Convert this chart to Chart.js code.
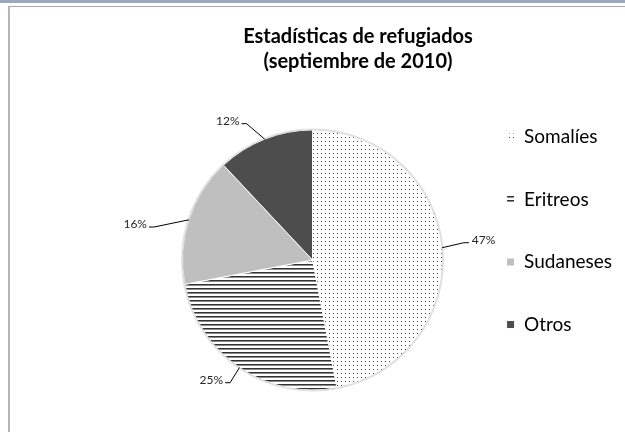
<!DOCTYPE html>
<html>
<head>
<meta charset="utf-8">
<script src="https://cdn.jsdelivr.net/npm/chart.js@4.4.1/dist/chart.umd.min.js"></script>
<style>
html, body { margin: 0; padding: 0; background: #fff; overflow: hidden; }
#band { position: absolute; left: 0; top: 0; width: 625px; height: 3px; background: #9da8ba; }
#frame { position: absolute; left: 8px; top: 6px; width: 640px; height: 440px; border-left: 2px solid #b5b5b5; border-top: 1px solid #a9a9a9; }
/* the Excel chart carries on past the right and bottom edges of the shot */
#wrap { position: absolute; left: 0; top: 0; width: 700px; height: 436px; }
</style>
</head>
<body>
<div id="band"></div>
<div id="frame"></div>
<div id="wrap"><canvas id="myChart"></canvas></div>
<script>
var categories = ["Somalíes", "Eritreos", "Sudaneses", "Otros"];
var shares = [47, 25, 16, 12];
var titleLines = ["Estadísticas de refugiados", "(septiembre de 2010)"];

// fill patterns like the Excel ones
function dotPattern() {
    var c = document.createElement('canvas');
    c.width = 4; c.height = 4;
    var g = c.getContext('2d');
    g.fillStyle = '#fff'; g.fillRect(0, 0, 4, 4);
    g.fillStyle = '#444'; g.fillRect(1, 1, 1, 1);
    return g.createPattern(c, 'repeat');
}
function linePattern() {
    var c = document.createElement('canvas');
    c.width = 4; c.height = 4;
    var g = c.getContext('2d');
    g.fillStyle = '#fff'; g.fillRect(0, 0, 4, 4);
    g.fillStyle = '#333'; g.fillRect(0, 0, 4, 1);
    g.fillStyle = '#8a8a8a'; g.fillRect(0, 1, 4, 1);
    return g.createPattern(c, 'repeat');
}
var fills = [dotPattern(), linePattern(), '#bfbfbf', '#4d4d4d'];

// small nudges so the leader lines land where Excel put them
var labelShift = [[0, -3], [3, -3], [-14, 14], [-10, 5]];

var pieLabels = {
    id: 'pieLabels',
    afterDatasetsDraw: function(chart) {
        var ctx = chart.ctx;
        var arcs = chart.getDatasetMeta(0).data;
        var total = shares.reduce(function(a, b) { return a + b; }, 0);
        ctx.save();
        // soft outer edge
        var a0 = arcs[0];
        ctx.beginPath();
        ctx.arc(a0.x, a0.y, a0.outerRadius + 0.5, 0, Math.PI * 2);
        ctx.strokeStyle = 'rgba(0,0,0,0.12)';
        ctx.lineWidth = 2;
        ctx.stroke();
        ctx.font = '12px Lato';
        ctx.fillStyle = '#262626';
        ctx.strokeStyle = '#000';
        ctx.lineWidth = 1;
        ctx.textBaseline = 'middle';
        arcs.forEach(function(arc, i) {
            var mid = (arc.startAngle + arc.endAngle) / 2;
            var r = arc.outerRadius;
            var cx = Math.cos(mid), sy = Math.sin(mid);
            var x1 = arc.x + cx * r, y1 = arc.y + sy * r;
            var x2 = arc.x + cx * (r + 22) + labelShift[i][0];
            var y2 = arc.y + sy * (r + 22) + labelShift[i][1];
            var right = cx >= 0;
            var x3 = x2 + (right ? 5 : -5);
            ctx.beginPath();
            ctx.moveTo(x1, y1); ctx.lineTo(x2, y2); ctx.lineTo(x3, y2);
            ctx.stroke();
            ctx.textAlign = right ? 'left' : 'right';
            ctx.fillText(Math.round(shares[i] / total * 100) + '%', x3 + (right ? 3 : -2), y2 - 3);
        });
        ctx.restore();
    }
};

// title is centred on the whole Excel chart (wider than the shot), not on the pie
var wideTitle = {
    id: 'wideTitle',
    afterDraw: function(chart) {
        var ctx = chart.ctx;
        ctx.save();
        ctx.font = 'bold 20px Lato';
        ctx.fillStyle = '#000';
        ctx.textAlign = 'center';
        ctx.textBaseline = 'middle';
        titleLines.forEach(function(line, i) {
            ctx.fillText(line, 358, 37 + i * 25);
        });
        ctx.restore();
    }
};

var ctx1 = document.getElementById("myChart");
var myChart1 = new Chart(ctx1, {
    type: 'pie',
    data: {
        labels: categories,
        datasets: [
            {
            data: shares,
            backgroundColor: fills,
            borderColor: '#fff',
            borderWidth: 1,
            hoverOffset: 0,
            radius: 130
        }
    ]
    },
    options: {
    responsive: true,
    maintainAspectRatio: false,
    animation: false,
    layout: {
        padding: { left: 162, right: 78, top: 84, bottom: 0 }
    },
    plugins: {
        legend: {
            position: 'right',
            align: 'start',
            fullSize: false,
            labels: {
                boxWidth: 8,
                boxHeight: 8,
                padding: 43.5,
                textAlign: 'left',
                color: '#000',
                font: { family: 'Lato', size: 19 }
            }
        },
        tooltip: { enabled: false },
        title: { display: false }
    }
    },
    plugins: [pieLabels, wideTitle]
});
</script>
</body>
</html>
